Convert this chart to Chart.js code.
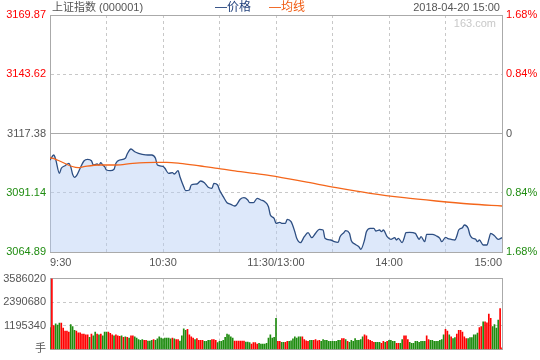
<!DOCTYPE html>
<html><head><meta charset="utf-8">
<script src="https://cdn.jsdelivr.net/npm/chart.js@4.4.1/dist/chart.umd.min.js"></script>
<style>
html,body{margin:0;padding:0;background:#fff;}
#wrap{position:relative;width:540px;height:360px;overflow:hidden;font-family:"Liberation Sans","Noto Sans CJK SC",sans-serif;}
canvas{position:absolute;left:0;}
.t{position:absolute;font-size:11px;line-height:14px;white-space:nowrap;}
</style></head><body>
<div id="wrap">
<canvas id="c1" width="540" height="268" style="top:0"></canvas>
<canvas id="c2" width="540" height="92" style="top:268px"></canvas>
<div class="t" style="left:52px;top:0;color:#555">上证指数 (000001)</div>
<div class="t" style="left:215px;top:0;color:#1f3f7a;font-size:12px">—价格</div>
<div class="t" style="left:269px;top:0;color:#f05a10;font-size:12px">—均线</div>
<div class="t" style="right:40px;top:0;color:#555">2018-04-20 15:00</div>
<div class="t" style="right:44px;top:16px;color:#c8c8c8">163.com</div>
</div>
<script>
const PREV = 3117.38;
const priceTicks = [3064.89, 3091.14, 3117.38, 3143.62, 3169.87];
const pctLabels = ['1.68%', '0.84%', '0', '0.84%', '1.68%'];
const timeTicks = [0, 30, 60, 90, 120, 150, 180, 210, 240];
const timeLabels = {0: '9:30', 60: '10:30', 120: '11:30/13:00', 180: '14:00', 240: '15:00'};
const volTicks = [0, 1195340, 2390680, 3586020];

const priceMin = [0,2,3,5,6,8,10,11,12,13,14,16,18,20,22,23,25,26,27,28,29,30,32,34,35,37,40,41,43,45,47,49,52,54,56,57,60,61,63,65,66,68,69,71,72,74,75,78,80,82,84,86,87,89,90,92,94,96,98,99,101,103,105,106,108,110,112,114,116,117,119,120,122,123,125,126,128,130,131,133,135,137,139,141,143,145,146,149,151,153,154,156,157,159,160,162,164,165,167,168,170,172,173,175,176,177,179,181,183,184,185,187,188,189,191,194,195,196,197,199,200,203,205,207,208,210,211,213,215,216,217,219,220,222,223,224,226,227,228,230,232,233,234,236,238,240];
const priceVal = [3105.64,3107.86,3105.95,3099.75,3101.97,3103.12,3104.18,3102.67,3099.31,3097.98,3098.56,3101.97,3105.20,3105.95,3105.33,3103.43,3103.87,3103.43,3104.45,3103.43,3102.67,3101.21,3100.90,3101.52,3104.18,3105.64,3106.40,3108.30,3110.51,3109.32,3108.61,3108.17,3107.86,3107.86,3106.40,3103.43,3102.85,3101.97,3099.75,3100.02,3099.44,3100.90,3098.24,3093.82,3092.04,3092.35,3094.57,3095.01,3096.34,3095.59,3093.55,3093.11,3095.32,3094.57,3092.35,3089.39,3086.73,3086.02,3085.27,3085.71,3088.23,3088.94,3087.92,3086.73,3086.73,3088.68,3087.92,3087.17,3084.96,3081.28,3079.82,3077.60,3078.05,3077.60,3077.60,3079.37,3078.31,3073.88,3070.96,3069.01,3071.67,3073.44,3071.22,3073.17,3074.95,3074.64,3070.96,3070.21,3069.45,3069.19,3071.67,3073.44,3074.33,3073.17,3069.90,3068.30,3067.24,3066.09,3070.21,3073.88,3075.39,3075.39,3074.19,3074.64,3073.88,3074.64,3071.67,3070.52,3071.22,3070.21,3070.96,3069.01,3070.96,3073.44,3073.62,3073.17,3071.67,3070.52,3071.67,3069.45,3072.73,3072.73,3072.11,3070.96,3069.45,3071.40,3070.96,3070.52,3070.21,3071.98,3074.64,3075.66,3076.85,3075.39,3072.42,3071.22,3070.52,3069.45,3070.21,3067.99,3067.99,3070.52,3073.17,3072.11,3070.52,3071.22];

const avgMin = [0,3,15,18,26,35,44,56,62,69,80,89,97,108,117,135,152,170,188,205,223,240];
const avgVal = [3106.66,3105.95,3102.23,3102.67,3103.43,3103.43,3104.18,3104.62,3104.62,3104.18,3102.98,3101.96,3100.90,3099.75,3098.69,3096.03,3093.37,3090.89,3088.94,3087.48,3086.15,3085.27];

const volume = [
1111000,3586020,1205000,1299000,1236000,1330000,1330000,1080000,923000,923000,
876000,1252000,1158000,970000,923000,845000,845000,782000,782000,735000,
735000,610000,782000,688000,876000,782000,735000,782000,688000,876000,
876000,876000,814000,735000,688000,735000,688000,657000,688000,610000,
641000,610000,579000,688000,688000,641000,579000,501000,454000,501000,
454000,454000,422000,422000,454000,501000,454000,532000,641000,579000,
532000,579000,579000,579000,532000,579000,532000,501000,501000,422000,
688000,1048000,970000,1017000,735000,641000,579000,501000,548000,454000,
454000,454000,407000,407000,454000,454000,501000,501000,454000,344000,
407000,407000,454000,610000,782000,735000,641000,579000,422000,422000,
422000,422000,422000,422000,376000,376000,344000,266000,344000,344000,
266000,313000,266000,266000,266000,313000,579000,735000,579000,610000,
1580000,407000,407000,360000,360000,360000,407000,407000,438000,532000,
641000,579000,641000,641000,641000,501000,438000,407000,454000,454000,
454000,501000,438000,454000,407000,501000,454000,454000,407000,407000,
407000,407000,407000,454000,454000,548000,548000,501000,407000,360000,
454000,407000,548000,454000,454000,501000,641000,735000,688000,501000,
454000,407000,360000,360000,360000,360000,313000,407000,360000,407000,
454000,454000,407000,407000,313000,313000,313000,501000,688000,688000,
501000,360000,313000,313000,407000,407000,360000,407000,407000,407000,
688000,501000,454000,454000,407000,407000,407000,454000,501000,735000,
1017000,923000,735000,641000,548000,595000,782000,970000,970000,876000,
641000,548000,548000,595000,595000,735000,735000,829000,1111000,1158000,
1392000,1392000,1346000,1784000,1580000,1158000,1252000,1080000,1486000,2065000,
78000];
const volUp = [
0,1,1,0,0,0,1,1,1,1, 1,0,0,0,1,1,1,1,1,1, 1,0,1,0,0,1,0,1,0,0, 0,1,1,1,0,1,1,1,0,1,
0,1,0,1,1,0,0,0,0,0, 1,1,0,0,0,1,0,0,0,0, 0,0,0,0,0,1,0,1,1,0, 0,0,0,1,1,1,1,0,1,1,
1,1,0,0,0,0,1,1,1,0, 0,0,0,0,0,0,0,0,1,1, 1,1,1,1,0,0,0,1,1,1, 1,0,0,0,0,0,0,0,0,0,
0,1,1,0,0,1,1,0,0,0, 0,0,0,0,1,1,1,1,0,0, 1,1,1,1,0,0,0,0,0,0, 0,0,0,0,0,1,1,0,1,0,
0,0,0,0,0,0,0,1,1,1, 1,1,1,0,0,0,1,1,0,1, 0,0,0,0,1,1,0,0,1,1, 1,0,0,0,0,0,0,0,0,0,
1,1,0,0,0,0,0,0,0,0, 1,1,0,1,0,0,1,1,1,1, 1,1,0,0,0,0,0,0,1,1, 0,1,1,1,1,0,0,0,0,1,
1];

const RED = '#ff0000', GREEN = '#1f8c10', GRAY = '#555555';
const FONT = {family: '"Liberation Sans","Noto Sans CJK SC",sans-serif', size: 11};
Chart.defaults.font = FONT;

function near(a, b) { return Math.abs(a - b) < 0.005; }
function priceColor(v) { if (near(v, PREV)) return GRAY; return v > PREV ? RED : GREEN; }
const setTicks = (arr) => (a) => { a.ticks = arr.map(v => ({value: v})); };

new Chart(document.getElementById('c1'), {
  type: 'line',
  data: {datasets: [
    {data: avgMin.map((m, i) => ({x: m, y: avgVal[i]})), borderColor: '#f4661b', borderWidth: 1.3,
     fill: false, pointRadius: 0, cubicInterpolationMode: 'monotone', order: 1},
    {data: priceMin.map((m, i) => ({x: m, y: priceVal[i]})), borderColor: '#2d4e82', borderWidth: 1.3,
     backgroundColor: 'rgba(180,205,245,0.45)', fill: 'start', pointRadius: 0, cubicInterpolationMode: 'monotone', order: 2}
  ]},
  options: {
    responsive: false, animation: false, devicePixelRatio: 1,
    layout: {padding: {top: 15, left: 0, right: 0, bottom: 0}},
    plugins: {legend: {display: false}, tooltip: {enabled: false}},
    scales: {
      x: {type: 'linear', min: 0, max: 240, afterBuildTicks: setTicks(timeTicks), afterFit: a => { a.height = 16; },
          ticks: {autoSkip: false, maxRotation: 0, align: 'inner', padding: 4, color: GRAY, callback: v => timeLabels[v] || ''},
          grid: {drawTicks: false, color: c => (c.tick && c.tick.value > 0 && c.tick.value < 240) ? '#c8c8c8' : '#aaaaaa'},
          border: {display: true, color: '#aaaaaa', dash: c => (c.tick && c.tick.value > 0 && c.tick.value < 240) ? [3, 3] : []}},
      y: {position: 'left', min: 3064.89, max: 3169.87, afterBuildTicks: setTicks(priceTicks), afterFit: a => { a.width = 50; },
          ticks: {padding: 4, color: c => priceColor(c.tick.value), callback: v => v.toFixed(2)},
          grid: {drawTicks: false, color: c => (c.tick && (near(c.tick.value, PREV) || c.index === 0 || c.index === 4)) ? '#aaaaaa' : '#c8c8c8'},
          border: {display: true, color: '#aaaaaa', dash: c => (c.tick && !near(c.tick.value, PREV) && c.index > 0 && c.index < 4) ? [3, 3] : []}},
      y2: {position: 'right', min: 3064.89, max: 3169.87, afterBuildTicks: setTicks(priceTicks), afterFit: a => { a.width = 38; },
          ticks: {padding: 4, color: c => priceColor(c.tick.value), callback: (v, i) => pctLabels[i]},
          grid: {display: false, drawTicks: false}, border: {display: true, color: '#aaaaaa'}}
    }
  }
});

new Chart(document.getElementById('c2'), {
  type: 'bar',
  data: {datasets: [{data: volume.map((v, i) => ({x: i, y: v})), backgroundColor: volUp.map(u => u ? RED : GREEN),
    barThickness: 1, borderWidth: 0}]},
  options: {
    responsive: false, animation: false, devicePixelRatio: 1,
    layout: {padding: {top: 6, left: 0, right: 0, bottom: 0}},
    plugins: {legend: {display: false}, tooltip: {enabled: false}},
    scales: {
      x: {type: 'linear', min: 0, max: 240, offset: false, afterBuildTicks: setTicks(timeTicks), afterFit: a => { a.height = 9; },
          ticks: {display: false},
          grid: {offset: false, drawTicks: false, color: c => (c.tick && c.tick.value > 0 && c.tick.value < 240) ? '#c8c8c8' : '#aaaaaa'},
          border: {display: true, color: '#aaaaaa', dash: c => (c.tick && c.tick.value > 0 && c.tick.value < 240) ? [3, 3] : []}},
      y: {position: 'left', min: 0, max: 3586020, afterBuildTicks: setTicks(volTicks), afterFit: a => { a.width = 50; },
          ticks: {padding: 4, color: GRAY, callback: v => v === 0 ? '手' : String(v)},
          grid: {drawTicks: false, color: c => (c.tick && c.index > 0 && c.index < 3) ? '#c8c8c8' : '#aaaaaa'},
          border: {display: true, color: '#aaaaaa', dash: c => (c.tick && c.index > 0 && c.index < 3) ? [3, 3] : []}},
      y2: {position: 'right', min: 0, max: 1, afterFit: a => { a.width = 38; }, ticks: {display: false},
          grid: {display: false, drawTicks: false}, border: {display: true, color: '#aaaaaa'}}
    }
  }
});
</script>
</body></html>
